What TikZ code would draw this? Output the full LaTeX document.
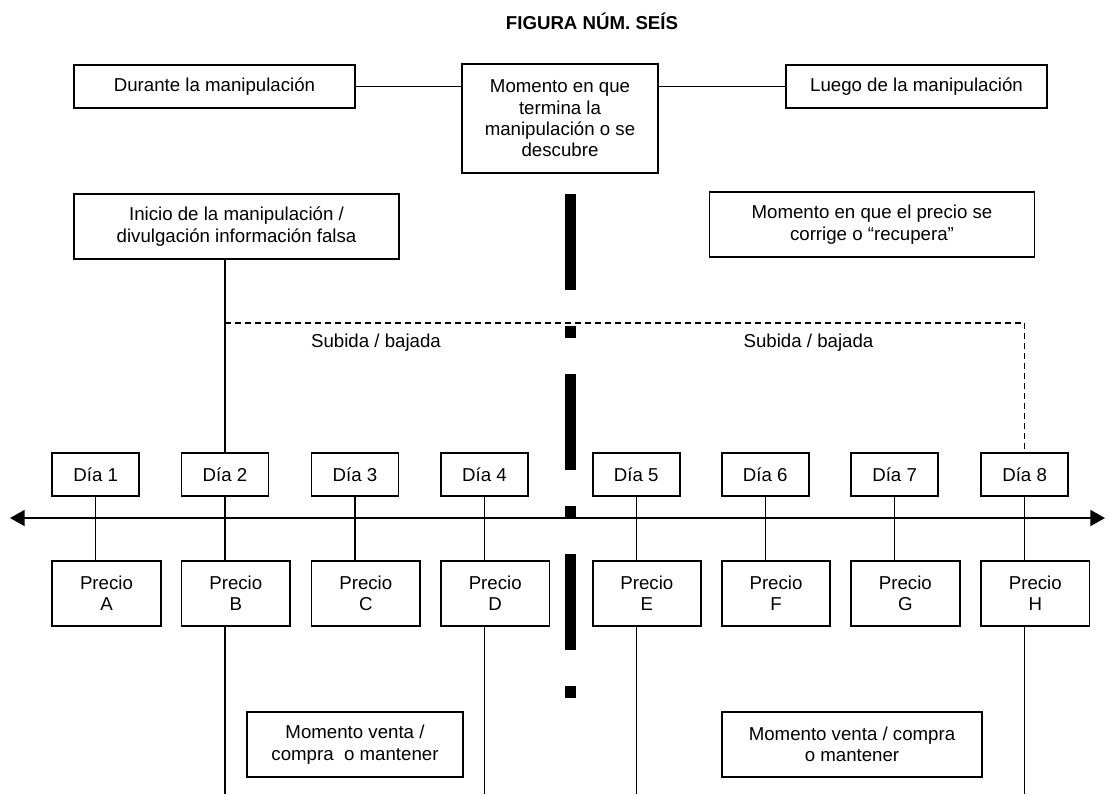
\documentclass[tikz,border=0pt]{standalone}
\usepackage{fontspec}
\setmainfont{Liberation Sans}
\usetikzlibrary{arrows.meta}
\tikzset{
	caja/.style={draw, line width=1.3pt, inner sep=0pt, align=center,
			font=\fontsize{14pt}{16pt}\selectfont},
	dia/.style={caja, minimum width=87*0.75pt, minimum height=43*0.75pt},
	precio/.style={caja, minimum width=108.5*0.75pt, minimum height=65*0.75pt},
	linea/.style={line width=1pt},
	tramos/.style={line width=1pt, dash pattern=on 4.5pt off 3pt},
	eje/.style={line width=1.4pt,
			{Triangle[length=11pt,width=12pt]}-{Triangle[length=11pt,width=12pt]}},
	corte/.style={line width=8.7pt, dash pattern=on 72pt off 27pt on 9pt off 27pt}
}

\begin{document}
\begin{tikzpicture}[x=0.75pt,y=-0.75pt]
			\useasboundingbox (0,0) rectangle (1107,794);
			\node[font=\fontsize{14pt}{16pt}\selectfont\bfseries] (titulo) at (592,21) {FIGURA NÚM. SEÍS};
			% fila de arriba
			\node[caja, minimum width=281*0.75pt, minimum height=43*0.75pt] (durante) at (214.5,86.5) {Durante la manipulación};
			\node[caja, minimum width=196*0.75pt, minimum height=109*0.75pt] (momento) at (560,118.5) {Momento en que\\termina la\\manipulación o se\\descubre};
			\node[caja, minimum width=261*0.75pt, minimum height=43*0.75pt] (luego) at (916.5,86.5) {Luego de la manipulación};
			\draw[linea] (durante.east) -- (durante.east -| momento.west);
			\draw[linea] (luego.west -| momento.east) -- (luego.west);
			\node[caja, minimum width=325*0.75pt, minimum height=65*0.75pt] (inicio) at (236.5,226.5) {Inicio de la manipulación /\\divulgación información falsa};
			\node[caja, minimum width=325*0.75pt, minimum height=65*0.75pt] (corrige) at (872,224.5) {Momento en que el precio se\\corrige o “recupera”};
			% dias
			\node[dia] (d1) at (95.7,474.5) {Día 1};
			\node[dia] (d2) at (225,474.5) {Día 2};
			\node[dia] (d3) at (355,474.5) {Día 3};
			\node[dia] (d4) at (484.5,474.5) {Día 4};
			\node[dia] (d5) at (636.2,474.5) {Día 5};
			\node[dia] (d6) at (765.3,474.5) {Día 6};
			\node[dia] (d7) at (894.6,474.5) {Día 7};
			\node[dia] (d8) at (1024.6,474.5) {Día 8};
			% precios
			\node[precio] (p1) at (106.5,593.5) {Precio\\A};
			\node[precio] (p2) at (235.8,593.5) {Precio\\B};
			\node[precio] (p3) at (365.8,593.5) {Precio\\C};
			\node[precio] (p4) at (495.2,593.5) {Precio\\D};
			\node[precio] (p5) at (646.9,593.5) {Precio\\E};
			\node[precio] (p6) at (776,593.5) {Precio\\F};
			\node[precio] (p7) at (905.4,593.5) {Precio\\G};
			\node[precio] (p8) at (1035.3,593.5) {Precio\\H};
			% eje del tiempo
			\coordinate (izq) at (10,518);
			\coordinate (der) at (1105,518);
			\draw[eje] (izq) -- (der);
			\draw[linea] (d1.south) -- (d1.south |- p1.north);
			\draw[linea] (d2.south) -- (d2.south |- p2.north);
			\draw[linea] (d3.south) -- (d3.south |- p3.north);
			\draw[linea] (d4.south) -- (d4.south |- p4.north);
			\draw[linea] (d5.south) -- (d5.south |- p5.north);
			\draw[linea] (d6.south) -- (d6.south |- p6.north);
			\draw[linea] (d7.south) -- (d7.south |- p7.north);
			\draw[linea] (d8.south) -- (d8.south |- p8.north);
			% subida / bajada
			\coordinate (tramo) at (0,323);
			\draw[linea] (inicio.south -| d2) -- (d2.north);
			\draw[tramos] (tramo -| d2) -- (tramo -| d8) -- (d8.north);
			\node[font=\fontsize{14pt}{16pt}\selectfont] (sube1) at (376,343) {Subida / bajada};
			\node[font=\fontsize{14pt}{16pt}\selectfont] (sube2) at (808.5,343) {Subida / bajada};
			% corte
			\draw[corte] (570.5,194) -- (570.5,698);
			% abajo
			\coordinate (fondo) at (0,794);
			\draw[linea] (p2.south -| d2) -- (fondo -| d2);
			\draw[linea] (p4.south -| d4) -- (fondo -| d4);
			\draw[linea] (p5.south -| d5) -- (fondo -| d5);
			\draw[linea] (p8.south -| d8) -- (fondo -| d8);
			\node[caja, minimum width=216.4*0.75pt, minimum height=65*0.75pt] (venta1) at (355,744.5) {Momento venta /\\compra~~o mantener};
			\node[caja, minimum width=260*0.75pt, minimum height=65*0.75pt] (venta2) at (852,744.5) {Momento venta / compra\\o mantener};
		\end{tikzpicture}
\end{document}
